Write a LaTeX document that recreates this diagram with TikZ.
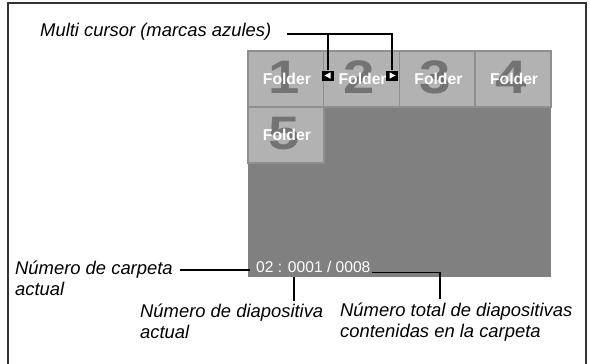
\documentclass[tikz,border=0pt]{standalone}
\usepackage{fontspec}
\setmainfont{Liberation Sans}
\definecolor{screengray}{gray}{0.5}
\definecolor{tilefill}{gray}{0.7}
\definecolor{tileedge}{gray}{0.56}
\definecolor{numgray}{gray}{0.45}
\begin{document}
\begin{tikzpicture}[x=1pt,y=-1pt,
    lbl/.style={font=\fontsize{18.4}{21.5}\selectfont\itshape, inner sep=0pt, anchor=base west},
    tile/.style={draw=tileedge, fill=tilefill, line width=1.5pt, minimum width=75.75pt, minimum height=56pt, inner sep=0pt},
    bignum/.style={font=\fontsize{47}{47}\selectfont\bfseries, text=numgray, inner sep=0pt, anchor=base, xscale=1.2},
    fold/.style={font=\fontsize{15.7}{16}\selectfont\bfseries, text=white, inner sep=0pt, anchor=base},
    cursormark/.style={fill=black, minimum width=12pt, minimum height=10pt, inner sep=0pt},
    conn/.style={line width=1.1pt}]
  \useasboundingbox (0,0) rectangle (590,364);
  % Frame
  \draw[line width=1.2pt, black!80] (8,364) -- (8,3) -- (586,3) -- (586,364);
  % Screen
  \fill[screengray] (248,51) rectangle (551,277);
  % Folder tiles
  \foreach \i/\x/\y in {1/285.9/79, 2/361.6/79, 3/437.4/79, 4/513.1/79, 5/285.9/135} {
    \node[tile] (t\i) at (\x,\y) {};
    \path (t\i.center) ++(-2,14) node[bignum] (n\i) {\i};
    \path (t\i.center) ++(1,5) node[fold] (f\i) {Folder};
  }
  % Multi cursor marks
  \node[cursormark] (mkl) at (328,75.5) {};
  \node[cursormark] (mkr) at (392,75.5) {};
  \fill[white] ([xshift=-3.5pt]mkl.center) -- ([xshift=2.5pt,yshift=3.2pt]mkl.center)
    -- ([xshift=2.5pt,yshift=-3.2pt]mkl.center) -- cycle;
  \fill[white] ([xshift=3.5pt]mkr.center) -- ([xshift=-2.5pt,yshift=3.2pt]mkr.center)
    -- ([xshift=-2.5pt,yshift=-3.2pt]mkr.center) -- cycle;
  \node[lbl] (mc) at (40,37) {Multi cursor (marcas azules)};
  \coordinate (mcj) at (287,34);
  \draw[conn] (mcj) -| (mkr.north);
  \draw[conn] (mkl.north) |- (mcj);
  % Counter line
  \node[font=\fontsize{15.6}{16}\selectfont, text=white, inner sep=0pt, anchor=base west]
    (num) at (256,272) {02 : 0001 / 0008};
  % Labels
  \node[lbl] (carp) at (15,274) {Número de carpeta};
  \node[lbl] (carpb) at (15,295) {actual};
  \node[lbl] (diap) at (140,317) {Número de diapositiva};
  \node[lbl] (diapb) at (140,338) {actual};
  \node[lbl] (tot) at (340,316) {Número total de diapositivas};
  \node[lbl] (totb) at (340,337) {contenidas en la carpeta};
  % Connectors
  \coordinate (cj) at (250,270);
  \draw[conn] ([xshift=7pt]carp.east |- cj) -- (cj);
  \coordinate (dj) at (294,277);
  \draw[conn] (dj) -- ([yshift=2pt]dj |- diap.north);
  \coordinate (tj) at (440,0);
  \draw[conn] ([xshift=1pt]num.south east) -| ([yshift=3pt]tj |- tot.north);
\end{tikzpicture}
\end{document}
